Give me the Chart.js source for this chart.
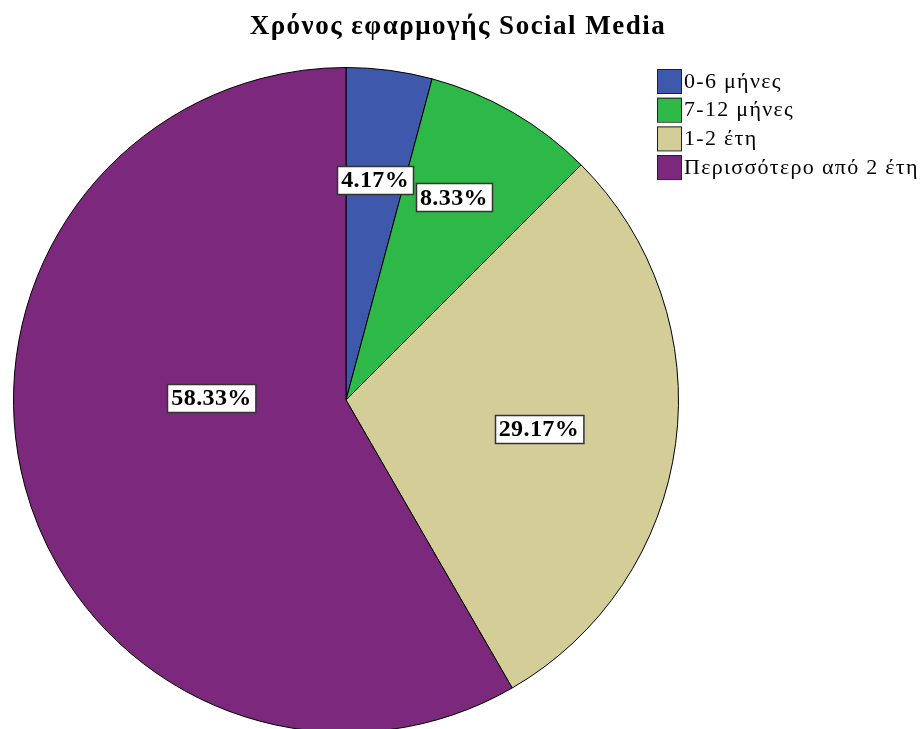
<!DOCTYPE html>
<html>
<head>
<meta charset="utf-8">
<title>Social Media</title>
<script src="https://cdn.jsdelivr.net/npm/chart.js@4/dist/chart.umd.min.js"></script>
<style>
  html, body { margin: 0; padding: 0; background: #fff; overflow: hidden; }
  #pie { display: block; }
</style>
</head>
<body>
<canvas id="pie" width="924" height="740"></canvas>
<script>
const chartTitle = 'Χρόνος εφαρμογής Social Media';
const categories = ['0-6 μήνες', '7-12 μήνες', '1-2 έτη', 'Περισσότερο από 2 έτη'];
const percentages = [4.17, 8.33, 29.17, 58.33];
const sliceColors = ['#3E58AC', '#2EB848', '#D3CE97', '#7C287D'];

const serif = '"Liberation Serif", "DejaVu Serif", serif';

// title and legend go in by hand so the pie keeps the whole left side
const headerPlugin = {
  id: 'header',
  afterDraw(chart) {
    const ctx = chart.ctx;
    ctx.save();
    ctx.fillStyle = '#000';
    ctx.font = 'bold 27px ' + serif;
    ctx.letterSpacing = '1.5px';
    ctx.textAlign = 'center';
    ctx.textBaseline = 'middle';
    ctx.fillText(chartTitle, 458, 27);

    ctx.font = '22px ' + serif;
    ctx.letterSpacing = '1.3px';
    ctx.textAlign = 'left';
    chart.data.labels.forEach((name, i) => {
      const y = 69 + i * 28.7;
      ctx.fillStyle = chart.data.datasets[0].backgroundColor[i];
      ctx.fillRect(657, y, 24, 24);
      ctx.strokeStyle = '#222';
      ctx.lineWidth = 1;
      ctx.strokeRect(657.5, y + 0.5, 24, 24);
      ctx.fillStyle = '#000';
      ctx.fillText(name, 684, y + 13);
    });
    ctx.restore();
  }
};

// boxed percentage on each slice; r = share of the radius, turn = degrees off the slice middle
const valueBoxPlugin = {
  id: 'valueBox',
  afterDatasetsDraw(chart, args, opts) {
    const ctx = chart.ctx;
    const meta = chart.getDatasetMeta(0);
    ctx.save();
    ctx.font = 'bold 24px ' + serif;
    ctx.letterSpacing = '0.4px';
    ctx.textAlign = 'center';
    ctx.textBaseline = 'middle';
    meta.data.forEach((arc, i) => {
      const p = arc.getProps(['x', 'y', 'startAngle', 'endAngle', 'outerRadius'], true);
      const place = opts.place[i];
      const a = (p.startAngle + p.endAngle) / 2 + place.turn * Math.PI / 180;
      const cx = p.x + Math.cos(a) * p.outerRadius * place.r;
      const cy = p.y + Math.sin(a) * p.outerRadius * place.r;
      const text = chart.data.datasets[0].data[i].toFixed(2) + '%';
      const w = ctx.measureText(text).width + 8;
      const h = 28;
      const left = Math.round(cx - w / 2) + 0.5;
      const top = Math.round(cy - h / 2) + 0.5;
      ctx.fillStyle = '#fff';
      ctx.fillRect(left, top, w, h);
      ctx.strokeStyle = '#333';
      ctx.lineWidth = 1.5;
      ctx.strokeRect(left, top, w, h);
      ctx.fillStyle = '#000';
      ctx.fillText(text, cx + 0.2, cy + 1);
    });
    ctx.restore();
  }
};

new Chart(document.getElementById('pie'), {
  type: 'pie',
  data: {
    labels: categories,
    datasets: [{
      data: percentages,
      backgroundColor: sliceColors,
      borderColor: '#000',
      borderWidth: 1
    }]
  },
  options: {
    responsive: false,
    animation: false,
    events: [],
    layout: {
      padding: { left: 13, right: 245, top: 67, bottom: 7 }
    },
    plugins: {
      legend: { display: false },
      title: { display: false },
      tooltip: { enabled: false },
      valueBox: {
        place: [
          { r: 0.667, turn: 0 },
          { r: 0.69, turn: -2 },
          { r: 0.586, turn: 1 },
          { r: 0.405, turn: 16 }
        ]
      }
    }
  },
  plugins: [valueBoxPlugin, headerPlugin]
});
</script>
</body>
</html>
